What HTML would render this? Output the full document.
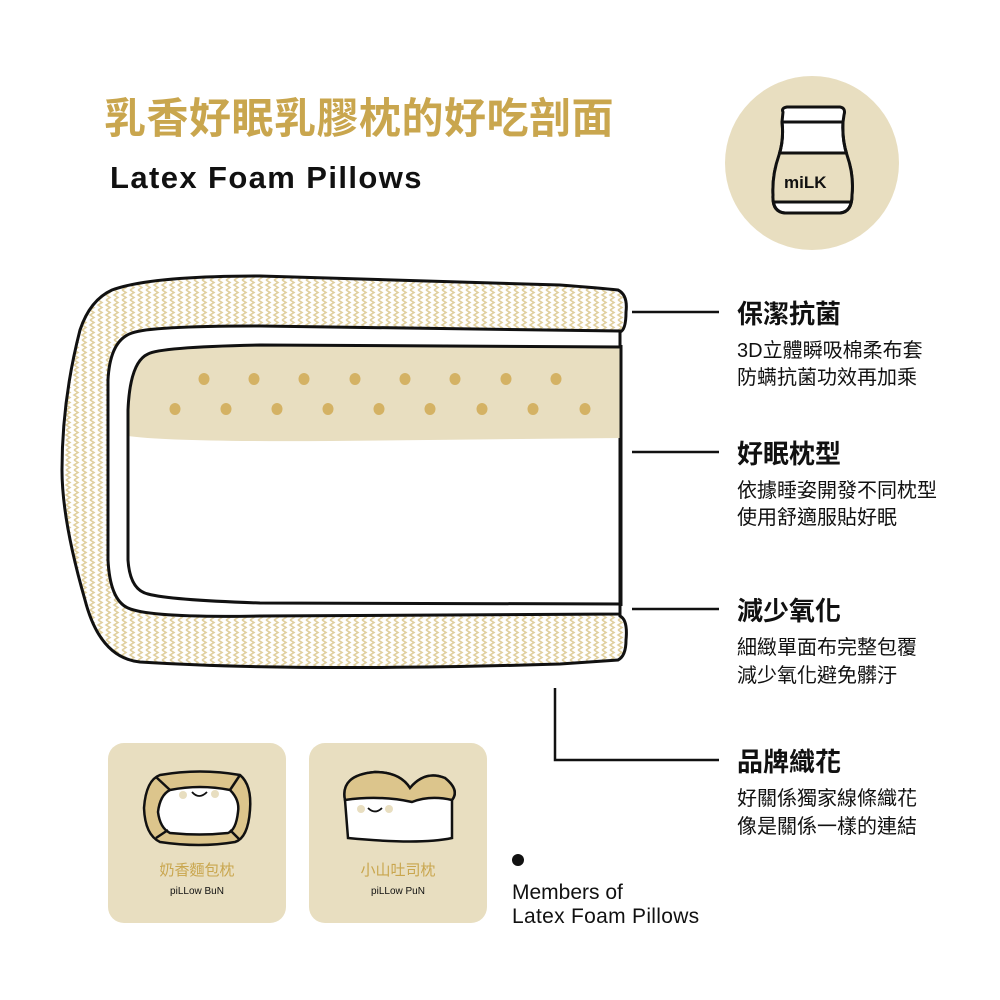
<!DOCTYPE html>
<html><head><meta charset="utf-8"><style>
body{margin:0;background:#fff}
svg{display:block}
text{font-family:"Liberation Sans","Noto Sans CJK TC",sans-serif}
</style></head><body>
<svg width="1000" height="1000" viewBox="0 0 1000 1000" xmlns="http://www.w3.org/2000/svg">
<defs>
<pattern id="zz" width="8" height="10" patternUnits="userSpaceOnUse">
<path d="M2 0 L6 2.5 L2 5 L6 7.5 L2 10" fill="none" stroke="#e0cf9e" stroke-width="1.6"/>
</pattern>
</defs>
<rect width="1000" height="1000" fill="#fff"/>
<text x="104" y="133" font-size="42" font-weight="700" fill="#c9a64e" letter-spacing="0.5">乳香好眠乳膠枕的好吃剖面</text>
<text x="110" y="188" font-size="31" font-weight="700" fill="#111" letter-spacing="1.4">Latex Foam Pillows</text>

<circle cx="812" cy="163" r="87" fill="#e8dec0"/>
<g stroke="#111" stroke-width="3" stroke-linejoin="round">
<path d="M782 122 L843 122 Q842 140 847 155 Q854 175 852 195 Q852 212 840 213 L785 213 Q772 212 773 195 Q772 175 779 155 Q784 140 782 122 Z" fill="#fff"/>
<path d="M776 153 L850 153 Q853 175 852 202 L773 202 Q772 175 776 153 Z" fill="#e8dec0" stroke="none"/>
<path d="M779 153 L847 153 M773 202 L852 202" fill="none"/>
<path d="M782 122 L843 122 Q842 140 847 155 Q854 175 852 195 Q852 212 840 213 L785 213 Q772 212 773 195 Q772 175 779 155 Q784 140 782 122 Z" fill="none"/>
<path d="M783 112 Q781 108 787 107 L840 107 Q846 108 844 115 L843 122 L782 122 Z" fill="#fff"/>
</g>
<text x="784" y="188" font-size="17" font-weight="700" fill="#111">miLK</text>

<!-- pillow -->
<path d="M112 290 Q150 276 260 276 L560 285 Q600 288 618 290 Q628 295 626 312 Q626 330 620 332 L620 616 Q628 620 626 640 Q626 656 618 660 L560 664 Q300 672 140 662 Q100 658 85 600 Q62 520 62 470 Q62 400 80 330 Q90 300 112 290 Z" fill="url(#zz)" stroke="#111" stroke-width="3"/>
<path d="M132 333 Q150 326 260 326 L620 331 L620 614 L260 616 Q150 618 128 608 Q110 600 108 560 L108 380 Q110 340 132 333 Z" fill="#fff" stroke="#111" stroke-width="3"/>
<path d="M148 354 Q160 347 260 345 L622 347 L622 438 L330 441 Q170 442 128 436 L128 410 Q130 362 148 354 Z" fill="#e8dec0"/>
<path d="M622 347 L260 345 Q160 347 148 354 Q130 362 128 410 L128 560 Q130 590 148 594 Q170 600 260 603 L622 604" fill="none" stroke="#111" stroke-width="3"/>
<line x1="621" y1="345" x2="621" y2="606" stroke="#111" stroke-width="3"/>
<g fill="#d4b264">
<ellipse cx="204" cy="379" rx="5.5" ry="6"/><ellipse cx="254" cy="379" rx="5.5" ry="6"/><ellipse cx="304" cy="379" rx="5.5" ry="6"/><ellipse cx="355" cy="379" rx="5.5" ry="6"/><ellipse cx="405" cy="379" rx="5.5" ry="6"/><ellipse cx="455" cy="379" rx="5.5" ry="6"/><ellipse cx="506" cy="379" rx="5.5" ry="6"/><ellipse cx="556" cy="379" rx="5.5" ry="6"/>
<ellipse cx="175" cy="409" rx="5.5" ry="6"/><ellipse cx="226" cy="409" rx="5.5" ry="6"/><ellipse cx="277" cy="409" rx="5.5" ry="6"/><ellipse cx="328" cy="409" rx="5.5" ry="6"/><ellipse cx="379" cy="409" rx="5.5" ry="6"/><ellipse cx="430" cy="409" rx="5.5" ry="6"/><ellipse cx="482" cy="409" rx="5.5" ry="6"/><ellipse cx="533" cy="409" rx="5.5" ry="6"/><ellipse cx="585" cy="409" rx="5.5" ry="6"/>
</g>

<g stroke="#111" stroke-width="2.5" fill="none">
<line x1="632" y1="312" x2="719" y2="312"/>
<line x1="632" y1="452" x2="719" y2="452"/>
<line x1="632" y1="609" x2="719" y2="609"/>
<path d="M555 688 L555 760 L719 760"/>
</g>
<g fill="#111">
<text x="737" y="323" font-size="26" font-weight="700">保潔抗菌</text>
<text x="737" y="357" font-size="20">3D立體瞬吸棉柔布套</text>
<text x="737" y="384" font-size="20">防螨抗菌功效再加乘</text>
<text x="737" y="463" font-size="26" font-weight="700">好眠枕型</text>
<text x="737" y="497" font-size="20">依據睡姿開發不同枕型</text>
<text x="737" y="524" font-size="20">使用舒適服貼好眠</text>
<text x="737" y="620" font-size="26" font-weight="700">減少氧化</text>
<text x="737" y="654" font-size="20">細緻單面布完整包覆</text>
<text x="737" y="682" font-size="20">減少氧化避免髒汙</text>
<text x="737" y="771" font-size="26" font-weight="700">品牌織花</text>
<text x="737" y="805" font-size="20">好關係獨家線條織花</text>
<text x="737" y="833" font-size="20">像是關係一樣的連結</text>
</g>

<rect x="108" y="743" width="178" height="180" rx="16" fill="#e8dec0"/>
<rect x="309" y="743" width="178" height="180" rx="16" fill="#e8dec0"/>
<!-- bun -->
<path d="M160 775 Q200 768 240 775 Q252 785 250 810 Q248 838 235 842 Q200 848 160 842 Q145 835 144 808 Q146 780 160 775 Z" fill="#dcc58c" stroke="#111" stroke-width="2.5"/>
<path d="M170 790 Q200 784 230 790 Q240 800 238 812 Q236 830 228 833 Q200 836 170 833 Q160 828 158 812 Q160 795 170 790 Z" fill="#fff" stroke="#111" stroke-width="2.5"/>
<g stroke="#111" stroke-width="2.5"><line x1="156" y1="777" x2="170" y2="790"/><line x1="240" y1="775" x2="230" y2="790"/><line x1="156" y1="838" x2="168" y2="830"/><line x1="240" y1="840" x2="230" y2="830"/></g>
<circle cx="183" cy="795" r="4" fill="#e8dec0"/><circle cx="215" cy="794" r="4" fill="#e8dec0"/>
<path d="M192 792 Q199 800 207 792" stroke="#111" stroke-width="1.8" fill="none"/>
<text x="197" y="875" font-size="15" fill="#c9a64e" text-anchor="middle">奶香麵包枕</text>
<text x="197" y="894" font-size="10" fill="#111" text-anchor="middle">piLLow BuN</text>
<!-- toast -->
<path d="M345 800 Q340 775 375 772 Q400 772 410 788 Q425 770 445 778 Q460 790 452 800 L452 838 Q420 845 348 838 Z" fill="#fff" stroke="#111" stroke-width="2.5"/>
<path d="M345 800 Q340 775 375 772 Q400 772 410 788 Q425 770 445 778 Q460 790 452 800 Q430 795 412 802 Q380 795 345 800 Z" fill="#dcc58c" stroke="#111" stroke-width="2.5"/>
<circle cx="361" cy="809" r="4" fill="#e8dec0"/><circle cx="389" cy="809" r="4" fill="#e8dec0"/>
<path d="M368 808 Q375 815 382 808" stroke="#111" stroke-width="1.8" fill="none"/>
<text x="398" y="875" font-size="15" fill="#c9a64e" text-anchor="middle">小山吐司枕</text>
<text x="398" y="894" font-size="10" fill="#111" text-anchor="middle">piLLow PuN</text>

<circle cx="518" cy="860" r="6" fill="#111"/>
<text x="512" y="899" font-size="21" fill="#111">Members of</text>
<text x="512" y="923" font-size="21" fill="#111" letter-spacing="0.3">Latex Foam Pillows</text>
</svg>
</body></html>
